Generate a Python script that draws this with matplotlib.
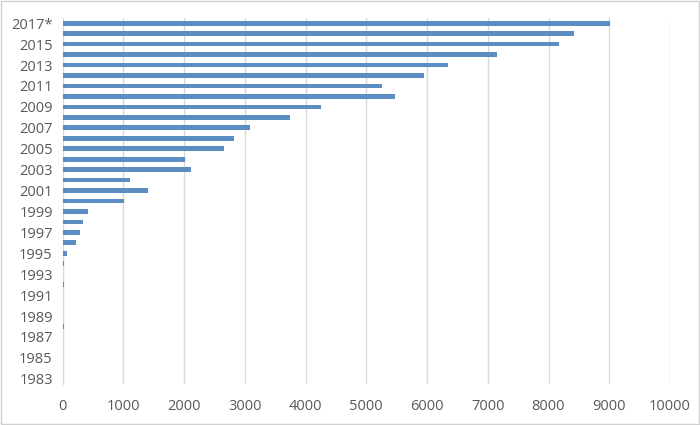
import matplotlib.pyplot as plt
from matplotlib.patches import Rectangle

years = [str(y) for y in range(1983, 2017)] + ["2017*"]
values = [0, 0, 15, 15, 15, 20, 0, 0, 0, 25, 15, 25, 70,
          230, 290, 330, 425, 1005, 1410, 1110, 2110, 2010,
          2665, 2825, 3080, 3750, 4260, 5480, 5265, 5955,
          6350, 7150, 8180, 8415, 9020]
xticks = list(range(0, 10001, 1000))

BAR = "#5b8cc2"
GRID = "#d9d9d9"
TXT = "#595959"

plt.rcParams["font.family"] = ["Open Sans", "DejaVu Sans"]

fig = plt.figure(figsize=(7, 4.25), dpi=100)
ax = fig.add_axes([62.5 / 700, 1 - 384 / 425, (670 - 62.5) / 700, (384 - 18) / 425])

pos = list(range(len(years)))
ax.barh(pos, values, height=0.45, color=BAR, zorder=3)

ax.set_xlim(0, 10000)
ax.set_ylim(-0.5, len(years) - 0.5)
ax.set_xticks(xticks)
ax.set_xticklabels([str(t) for t in xticks])
ax.set_yticks(pos[::2])
ax.set_yticklabels(years[::2])
ax.tick_params(axis="both", length=0, colors=TXT, labelsize=10.5)
ax.tick_params(axis="x", pad=11)
ax.tick_params(axis="y", pad=7)

ax.grid(axis="x", color=GRID, linewidth=1, zorder=0)
for s in ["top", "right", "bottom"]:
    ax.spines[s].set_visible(False)
ax.spines["left"].set_color(GRID)

# light frame around the chart area
fig.patches.append(Rectangle((0.001, 0.002), 0.997, 0.995, transform=fig.transFigure,
                             fill=False, edgecolor="#d0d0d0", linewidth=1))

fig.savefig("out.png", dpi=100)
